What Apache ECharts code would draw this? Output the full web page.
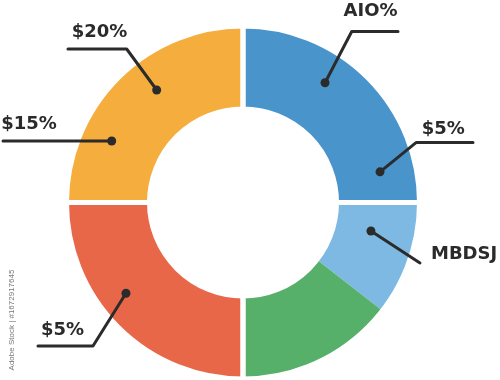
<!DOCTYPE html>
<html><head><meta charset="utf-8">
<script src="https://cdn.jsdelivr.net/npm/echarts@6/dist/echarts.min.js"></script>
<style>html,body{margin:0;padding:0;background:#fff}#c{width:500px;height:380px}</style>
</head><body><div id="c"></div>
<script>
// ---- data ----
const sliceNames = ['Blue', 'Light blue', 'Green', 'Red', 'Orange'];
const sliceValues = [25, 10.5, 14.5, 25, 25];
const sliceGroups = [0, 1, 1, 2, 3];           // slices sharing a group have no gap between them
const calloutTexts = ['AIO%', '$5%', 'MBDSJ', '$5%', '$15%', '$20%'];

// ---- styles / layout ----
const sliceColors = ['#4A94CC', '#7DB9E2', '#56B06A', '#E96749', '#F5AD3D'];
const INK = '#2b2b2b';
const CX = 243, CY = 202.5, R_IN = 93.5, R_OUT = 176.5;
// dot: [radius px, angle deg clockwise from top]; bend: offset from dot; run: horizontal run; text: offset from line end
const calloutLayout = [
  { dot: [145.2, 34.4],  bend: [26.7, -51.2], run: 46.3,   text: [-27.5, -20.6], align: 'center' },
  { dot: [140.4, 77.4],  bend: [36, -29.3],   run: 57,     text: [-29.7, -12.8], align: 'center' },
  { dot: [131.1, 102.55],bend: [49, 32],      run: 0,      text: [11, -8.5],     align: 'left' },
  { dot: [148.1, 232.2], bend: [-33, 52.7],   run: -55,    text: [24.5, -15.5],  align: 'center' },
  { dot: [145, 295.1],   bend: [0, 0],        run: -108.7, text: [26, -16.8],    align: 'center' },
  { dot: [141.8, 322.5], bend: [-30, -41],    run: -58.7,  text: [31.5, -16.2],  align: 'center' }
];

const groupValues = [];
sliceValues.forEach((v, i) => { const g = sliceGroups[i]; groupValues[g] = (groupValues[g] || 0) + v; });

const chart = echarts.init(document.getElementById('c'), null, { renderer: 'canvas' });
chart.setOption({
  animation: false,
  backgroundColor: '#fff',
  polar: { center: [CX, CY], radius: [0, R_OUT] },
  angleAxis: { type: 'value', min: 0, max: 360, startAngle: 90, clockwise: true, show: false },
  radiusAxis: { type: 'value', min: 0, max: R_OUT, show: false },
  graphic: [{
    type: 'text', x: 12, y: 320, rotation: Math.PI / 2, silent: true,
    style: { text: 'Adobe Stock | #1672917645', x: 0, y: 0, textAlign: 'center', textVerticalAlign: 'middle',
             align: 'center', verticalAlign: 'middle', fill: '#777', font: '8px "Liberation Sans"' }
  }],
  series: [
    {
      type: 'pie', z: 2, center: [CX, CY], radius: [R_IN, R_OUT], startAngle: 90, clockwise: true,
      silent: true, label: { show: false }, labelLine: { show: false }, emphasis: { disabled: true },
      itemStyle: { borderWidth: 0 },
      data: sliceNames.map((n, i) => ({ name: n, value: sliceValues[i], itemStyle: { color: sliceColors[i] } }))
    },
    {
      type: 'pie', z: 3, center: [CX, CY], radius: [R_IN, R_OUT], startAngle: 90, clockwise: true,
      silent: true, label: { show: false }, labelLine: { show: false }, emphasis: { disabled: true },
      itemStyle: { color: 'rgba(0,0,0,0)', borderColor: '#fff', borderWidth: 5 },
      data: groupValues.map((v, i) => ({ name: 'group' + i, value: v }))
    },
    {
      type: 'pie', z: 6, center: [CX, CY], radius: [0, 10], startAngle: 90, clockwise: true,
      silent: true, avoidLabelOverlap: false, emphasis: { disabled: true },
      itemStyle: { color: 'rgba(0,0,0,0)' },
      label: { show: true, position: 'outside', formatter: '{b}', color: INK,
               fontFamily: '"DejaVu Sans"', fontWeight: 'bold', fontSize: 18, width: 120, overflow: 'none' },
      labelLine: { show: true, showAbove: true, length: 4, length2: 4,
                   lineStyle: { color: INK, width: 3, cap: 'round', join: 'round' } },
      labelLayout: function (p) {
        const c = calloutLayout[p.dataIndex];
        const rad = c.dot[1] * Math.PI / 180;
        const x0 = CX + c.dot[0] * Math.sin(rad), y0 = CY - c.dot[0] * Math.cos(rad);
        const x1 = x0 + c.bend[0], y1 = y0 + c.bend[1];
        const x2 = x1 + c.run, y2 = y1;
        return { x: x2 + c.text[0], y: y2 + c.text[1], align: c.align, verticalAlign: 'middle',
                 labelLinePoints: [[x0, y0], [x1, y1], [x2, y2]] };
      },
      data: calloutTexts.map(t => ({ name: t, value: 1 }))
    },
    {
      type: 'scatter', coordinateSystem: 'polar', silent: true, z: 10,
      symbol: 'circle', symbolSize: 9, itemStyle: { color: INK, opacity: 1 },
      data: calloutLayout.map(c => c.dot)
    }
  ]
});
</script></body></html>
